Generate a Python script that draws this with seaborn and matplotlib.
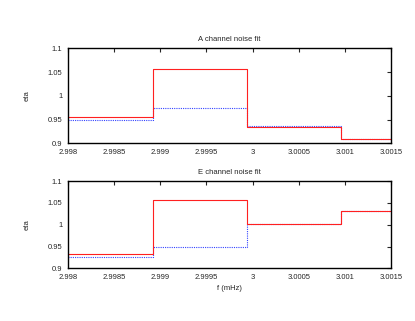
import numpy as np
import pandas as pd
import matplotlib
matplotlib.use('Agg')
import matplotlib.pyplot as plt
import seaborn as sns

# bin edges (mHz) and fitted eta per bin
edges = [2.99790, 2.99892, 2.99994, 3.00096, 3.00198]
a_red = [0.955, 1.056, 0.934, 0.910]
a_blue = [0.948, 0.974, 0.936, 0.908]
e_red = [0.933, 1.057, 1.002, 1.032]
e_blue = [0.927, 0.949, 1.002, 1.032]

xticks = [2.998, 2.9985, 2.999, 2.9995, 3.0, 3.0005, 3.001, 3.0015]
xticklabels = ['2.998', '2.9985', '2.999', '2.9995', '3', '3.0005', '3.001', '3.0015']
yticks = [0.9, 0.95, 1.0, 1.05, 1.1]
yticklabels = ['0.9', '0.95', '1', '1.05', '1.1']

sns.set_style('white')
plt.rcParams['font.family'] = ['Liberation Sans', 'DejaVu Sans']
plt.rcParams['font.size'] = 5.5


def steps(vals):
    return pd.DataFrame({'f': edges, 'eta': list(vals) + [vals[-1]]})


def panel(ax, red, blue, title):
    sns.lineplot(data=steps(blue), x='f', y='eta', ax=ax, drawstyle='steps-post',
                 color='#3344ff', linestyle=(0, (1, 1)), linewidth=0.8)
    sns.lineplot(data=steps(red), x='f', y='eta', ax=ax, drawstyle='steps-post',
                 color='#ff2020', linewidth=0.8)
    ax.set_xlim(2.998, 3.0015)
    ax.set_ylim(0.9, 1.1)
    ax.set_xticks(xticks)
    ax.set_xticklabels(xticklabels)
    ax.set_yticks(yticks)
    ax.set_yticklabels(yticklabels)
    ax.tick_params(direction='in', length=3, width=0.8, top=True, right=True,
                   labelsize=5.5)
    ax.tick_params(axis='x', pad=4)
    ax.tick_params(axis='y', pad=4)
    for s in ax.spines.values():
        s.set_linewidth(1.0)
        s.set_color('black')
    ax.set_title(title, fontsize=5.5, pad=5)
    ax.set_ylabel('eta', fontsize=5.5, labelpad=12)
    ax.set_xlabel('')


fig = plt.figure(figsize=(4.15, 3.21), dpi=100)
ax1 = fig.add_axes([0.164, 0.5536, 0.778, 0.2959])
ax2 = fig.add_axes([0.164, 0.164, 0.778, 0.272])
panel(ax1, a_red, a_blue, 'A channel noise fit')
panel(ax2, e_red, e_blue, 'E channel noise fit')
ax2.set_xlabel('f (mHz)', fontsize=5.5, labelpad=3)

fig.savefig('out.png', dpi=100)
